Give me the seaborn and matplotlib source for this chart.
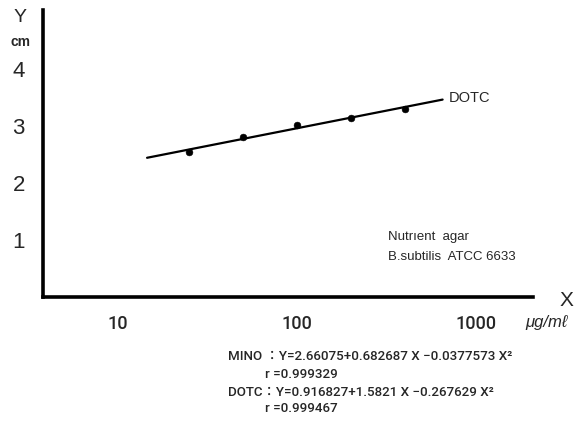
import numpy as np
import pandas as pd
import seaborn as sns
import matplotlib.pyplot as plt

# DOTC measured zones (diameter, cm) vs concentration (ug/ml)
conc = [25, 50, 100, 200, 400]
zone = [2.55, 2.80, 3.02, 3.14, 3.29]

# drawn regression line, end points
line_conc = [14.5, 650]
line_zone = [2.44, 3.46]

yticks = [1, 2, 3, 4]
xticks = [10, 100, 1000]
xticklabels = ["10", "100", "1000"]

eq_lines = [
    ("MINO ：Y=2.66075+0.682687 X −0.0377573 X²", 228),
    ("r =0.999329", 265),
    ("DOTC：Y=0.916827+1.5821 X −0.267629 X²", 228),
    ("r =0.999467", 265),
]

sns.set_style("white")
fams = ['Liberation Sans', 'Noto Sans CJK JP', 'DejaVu Sans']
narrow = ['Roboto', 'Noto Sans CJK JP', 'DejaVu Sans']
plt.rcParams['font.family'] = fams

W, H = 585, 432
fig = plt.figure(figsize=(W / 100, H / 100), dpi=100)
ax = fig.add_axes([43 / W, 1 - 297 / H, (533 - 43) / W, (297 - 10) / H])

pts = pd.DataFrame({"conc": conc, "zone": zone})
fit = pd.DataFrame({"conc": line_conc, "zone": line_zone})
sns.lineplot(data=fit, x="conc", y="zone", color="black", linewidth=1.6, ax=ax)
sns.scatterplot(data=pts, x="conc", y="zone", color="black", s=24, edgecolor="black", ax=ax, zorder=3)

ax.set_xscale("log")
ax.set_xlim(3.8, 2080)
ax.set_ylim(0, 5.03)
ax.set_xlabel("")
ax.set_ylabel("")
ax.set_yticks(yticks)
ax.set_yticklabels([str(t) for t in yticks], fontsize=16)
ax.set_xticks(xticks)
ax.set_xticklabels(xticklabels, fontsize=13, family=narrow, fontweight="medium")
ax.minorticks_off()
ax.tick_params(axis="both", direction="out", length=7, width=1, color="black")
ax.tick_params(axis="x", pad=6)
ax.tick_params(axis="y", pad=6)
for s in ["top", "right"]:
    ax.spines[s].set_visible(False)
for s in ["left", "bottom"]:
    ax.spines[s].set_linewidth(2.6)
    ax.spines[s].set_color("black")

ax.text(700, 3.48, "DOTC", fontsize=10.5, va="center", ha="left")


def px(x, y):
    return x / W, 1 - y / H


fig.text(*px(20, 17), "Y", fontsize=14, ha="center", va="center")
fig.text(*px(20, 42), "cm", fontsize=10, ha="center", va="center", fontweight="bold")
fig.text(*px(566, 300), "X", fontsize=15, ha="center", va="center")
fig.text(*px(546, 323), "μg/mℓ", fontsize=12, ha="center", va="center", style="italic")
fig.text(*px(388, 237), "Nutrıent  agar", fontsize=9.5, ha="left", va="center")
fig.text(*px(388, 257), "B.subtilis  ATCC 6633", fontsize=9.5, ha="left", va="center")

for (txt, x0), yy in zip(eq_lines, [356, 374, 392, 409]):
    fig.text(*px(x0, yy), txt, fontsize=9.6, ha="left", va="center", family=narrow, fontweight="medium")

fig.savefig("out.png", dpi=100)
